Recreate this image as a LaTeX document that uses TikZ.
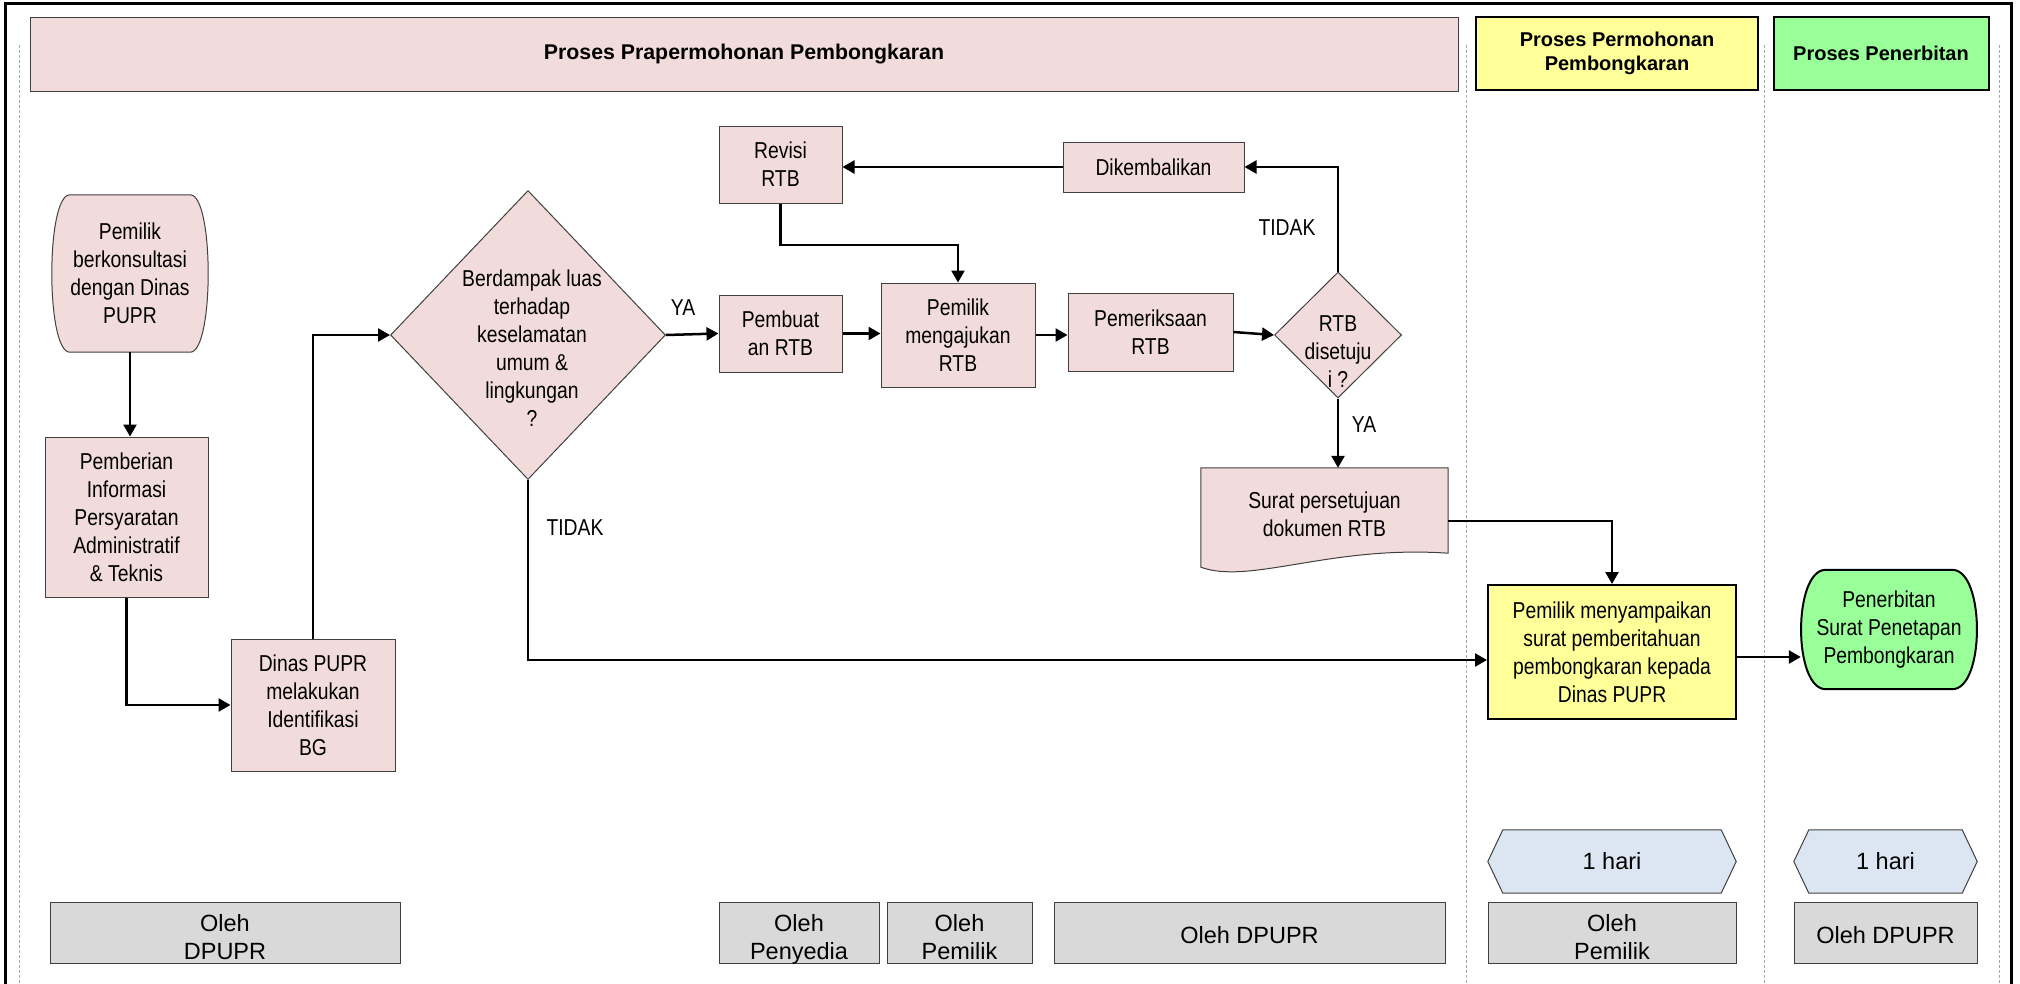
\documentclass[tikz,border=0pt]{standalone}
\usepackage{fontspec}
\setmainfont{Liberation Sans}
\newfontfamily\bodyfont[FakeStretch=0.84]{Liberation Sans}
\usetikzlibrary{arrows.meta,shapes.geometric,backgrounds,calc}
\definecolor{pinkf}{HTML}{F2DCDB}
\definecolor{yellowf}{HTML}{FFFF99}
\definecolor{greenf}{HTML}{99FF99}
\definecolor{bluef}{HTML}{DCE6F2}
\definecolor{grayf}{HTML}{D9D9D9}
\definecolor{edge}{HTML}{404040}
\definecolor{lanec}{HTML}{A6A6A6}
\begin{document}
\begin{tikzpicture}[x=1pt,y=-1pt,
  txt/.style={font=\bodyfont\fontsize{23}{28}\selectfont,align=center,inner sep=0pt},
  proc/.style={txt,draw=edge,line width=1pt,fill=pinkf},
  hdr/.style={font=\fontsize{20}{24}\selectfont\bfseries,align=center,inner sep=0pt},
  whobox/.style={draw=edge,line width=1pt,fill=grayf,minimum height=61pt,inner sep=0pt},
  whotxt/.style={font=\fontsize{23.5}{28}\selectfont,align=center,inner sep=0pt},
  hari/.style={font=\fontsize{23.5}{28}\selectfont,align=center,inner sep=0pt,minimum height=63pt},
  conn/.style={line width=2.5pt,-{Triangle[length=12pt,width=13pt]}},
  lanes/.style={draw=lanec,line width=0.8pt,dash pattern=on 3pt off 2pt}]

\useasboundingbox (0,0) rectangle (2020,983);

% lanes and frame
\foreach \x in {19,1466,1764,1999} \draw[lanes] (\x,45) -- (\x,983);
\draw[line width=3pt] (5,990) -- (5,3) -- (2011,3) -- (2011,990);

% headers
\node[hdr,font=\fontsize{21.3}{24}\selectfont\bfseries,draw=edge,line width=1pt,fill=pinkf,minimum width=1428pt,minimum height=74pt] (h1) at (744,54) {Proses Prapermohonan Pembongkaran};
\node[hdr,draw=black,line width=2pt,fill=yellowf,minimum width=282pt,minimum height=73pt] (h2) at (1617,53.5) {Proses Permohonan\\Pembongkaran};
\node[hdr,draw=black,line width=2pt,fill=greenf,minimum width=215pt,minimum height=73pt] (h3) at (1881,53.5) {Proses Penerbitan};

% process nodes
\node[txt,minimum width=156pt,minimum height=157pt] (konsul) at (130,273.5) {Pemilik\\berkonsultasi\\dengan Dinas\\PUPR};
\node[proc,minimum width=163pt,minimum height=160pt] (info) at (126.5,517) {Pemberian\\Informasi\\Persyaratan\\Administratif\\\& Teknis};
\node[proc,minimum width=164pt,minimum height=132pt] (dinas) at (313,705) {Dinas PUPR\\melakukan\\Identifikasi\\BG};
\node[diamond,draw=edge,fill=pinkf,line width=1pt,minimum width=275pt,minimum height=289pt,inner sep=0pt] (d1) at (528,335) {};
\node[txt] (d1t) at (532,348) {Berdampak luas\\terhadap\\keselamatan\\umum \&\\lingkungan\\?};
\node[proc,minimum width=123pt,minimum height=77pt] (buat) at (780.5,333.5) {Pembuat\\an RTB};
\node[proc,minimum width=123pt,minimum height=77pt] (revisi) at (780.5,164.5) {Revisi\\RTB};
\node[proc,minimum width=154pt,minimum height=104pt] (ajukan) at (958,335) {Pemilik\\mengajukan\\RTB};
\node[proc,minimum width=165pt,minimum height=78pt] (periksa) at (1150.5,332) {Pemeriksaan\\RTB};
\node[proc,minimum width=181pt,minimum height=50pt] (kembali) at (1153.5,167) {Dikembalikan};
\node[diamond,draw=edge,fill=pinkf,line width=1pt,minimum width=127pt,minimum height=126pt,inner sep=0pt] (d2) at (1338,335) {};
\node[txt] (d2t) at (1338,352) {RTB\\disetuju\\i ?};
\node[minimum width=247pt,minimum height=106pt,inner sep=0pt] (surat) at (1324.5,521) {};
\node[txt] (surt) at (1324.5,514) {Surat persetujuan\\dokumen RTB};
\node[txt,draw=black,line width=2pt,fill=yellowf,minimum width=248pt,minimum height=134pt] (lapor) at (1612,652) {Pemilik menyampaikan\\surat pemberitahuan\\pembongkaran kepada\\Dinas PUPR};
\node[txt,minimum width=176pt,minimum height=119pt] (terbit) at (1889,629.5) {Penerbitan\\Surat Penetapan\\Pembongkaran};

% duration boxes
\node[hari,minimum width=248pt] (hx1) at (1612,861.5) {1 hari};
\node[hari,minimum width=183pt] (hx2) at (1885.5,861.5) {1 hari};

% actor boxes
\node[whobox,minimum width=350pt] (w1) at (225,932.5) {};
\node[whobox,minimum width=160pt] (w2) at (799,932.5) {};
\node[whobox,minimum width=145pt] (w3) at (959.5,932.5) {};
\node[whobox,minimum width=391pt] (w4) at (1249.5,932.5) {};
\node[whobox,minimum width=248pt] (w5) at (1612,932.5) {};
\node[whobox,minimum width=183pt] (w6) at (1885.5,932.5) {};
\node[whotxt] (w1t) at (225,937) {Oleh\\DPUPR};
\node[whotxt] (w2t) at (799,939.5) {Oleh\\Penyedia};
\node[whotxt] (w3t) at (959.5,937) {Oleh\\Pemilik};
\node[whotxt] (w4t) at (1249.5,935) {Oleh DPUPR};
\node[whotxt] (w5t) at (1612,937) {Oleh\\Pemilik};
\node[whotxt] (w6t) at (1885.5,935) {Oleh DPUPR};

% labels
\node[txt] (ya1) at (683,308) {YA};
\node[txt] (td1) at (575,528) {TIDAK};
\node[txt] (td2) at (1287,228) {TIDAK};
\node[txt] (ya2) at (1364,425) {YA};

% custom outlines
\begin{pgfonlayer}{background}
\path[draw=edge,line width=1pt,fill=pinkf]
  ($(konsul.north west)+(18,0)$) -- ($(konsul.north east)+(-18,0)$)
  .. controls ($(konsul.north east)+(6,0)$) and ($(konsul.south east)+(6,0)$) .. ($(konsul.south east)+(-18,0)$)
  -- ($(konsul.south west)+(18,0)$)
  .. controls ($(konsul.south west)+(-6,0)$) and ($(konsul.north west)+(-6,0)$) .. cycle;
\path[draw=black,line width=2pt,fill=greenf]
  ($(terbit.north west)+(25,0)$) -- ($(terbit.north east)+(-25,0)$)
  .. controls ($(terbit.north east)+(8,0)$) and ($(terbit.south east)+(8,0)$) .. ($(terbit.south east)+(-25,0)$)
  -- ($(terbit.south west)+(25,0)$)
  .. controls ($(terbit.south west)+(-8,0)$) and ($(terbit.north west)+(-8,0)$) .. cycle;
\path[draw=edge,line width=1pt,fill=pinkf]
  (surat.north west) -- (surat.north east) -- ($(surat.south east)+(0,-21)$)
  .. controls (1330,545) and (1250,585) .. ($(surat.south west)+(0,-7)$) -- cycle;
\foreach \h in {hx1,hx2}
  \path[draw=edge,line width=1pt,fill=bluef]
    ($(\h.north west)+(15,0)$) -- ($(\h.north east)+(-15,0)$) -- (\h.east)
    -- ($(\h.south east)+(-15,0)$) -- ($(\h.south west)+(15,0)$) -- (\h.west) -- cycle;
\end{pgfonlayer}

% connectors
\coordinate (rv) at (780.5,245);
\draw[conn] (konsul.south) -- (konsul.south |- info.north);
\draw[conn] (info.south) |- (dinas.west);
\draw[conn] (dinas.north) |- (d1.west);
\draw[conn] (d1.east) -- (buat.west);
\draw[conn] (buat.east) -- (buat.east -| ajukan.west);
\draw[conn] (ajukan.east) -- (ajukan.east -| periksa.west);
\draw[conn] (periksa.east) -- (d2.west);
\draw[conn] (d2.north) |- (kembali.east);
\draw[conn] (kembali.west) -- (kembali.west -| revisi.east);
\draw[conn] (revisi.south) -- (revisi.south |- rv) -| (ajukan.north);
\draw[conn] (d2.south) -- (d2.south |- surat.north);
\draw[conn] (surat.east) -| (lapor.north);
\draw[conn] (d1.south) |- ([yshift=-8pt]lapor.west);
\draw[conn] ([yshift=-5pt]lapor.east) -- ([yshift=-5pt]lapor.east -| terbit.west);
\end{tikzpicture}
\end{document}
